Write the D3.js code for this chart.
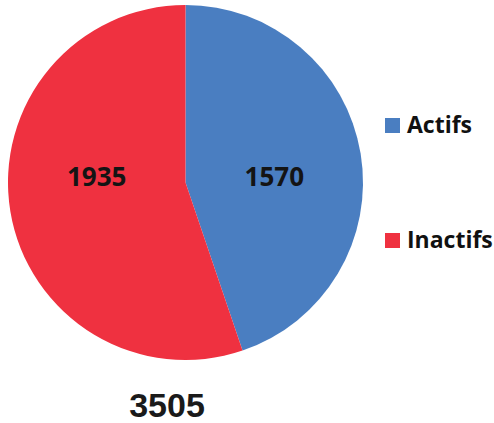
<!DOCTYPE html>
<html><head><meta charset="utf-8">
<script src="https://cdn.jsdelivr.net/npm/d3@7"></script>
<style>html,body{margin:0;padding:0;background:#fff;}svg{display:block;}</style>
</head><body>
<script>
const categories = ["Actifs", "Inactifs"];
const values = [1570, 1935];
const colors = ["#4A7EC1", "#EF3140"];
const totalLabel = "3505";

const W = 494, H = 423;
const cx = 185.5, cy = 182.5, R = 177.5;
const svg = d3.select("body").append("svg").attr("width", W).attr("height", H);

const pie = d3.pie().sort(null).value(d => d)(values);
const arc = d3.arc().innerRadius(0).outerRadius(R);
const labelArc = d3.arc().innerRadius(90).outerRadius(90);
const color = d3.scaleOrdinal().domain(categories).range(colors);

const g = svg.append("g").attr("transform", `translate(${cx},${cy})`);
g.selectAll("path").data(pie).enter().append("path")
  .attr("d", arc).attr("fill", (d, i) => color(categories[i]));

g.selectAll("text.lbl").data(pie).enter().append("text")
  .attr("class", "lbl")
  .attr("x", d => labelArc.centroid(d)[0])
  .attr("y", 3)
  .attr("text-anchor", "middle")
  .style("font-family", "'Open Sans', sans-serif")
  .style("font-weight", "bold")
  .style("font-size", "26px")
  .attr("fill", "#141414")
  .text(d => d.value);

const legend = svg.append("g");
const ly = d3.scalePoint().domain(categories).range([118, 233]);
categories.forEach(c => {
  legend.append("rect").attr("x", 385).attr("y", ly(c)).attr("width", 15).attr("height", 15).attr("fill", color(c));
  legend.append("text").attr("x", 407).attr("y", ly(c) + 15)
    .style("font-family", "'Open Sans', sans-serif").style("font-weight", "bold").style("font-size", "23px")
    .attr("fill", "#111").text(c);
});

svg.append("text").attr("x", 167).attr("y", 417).attr("text-anchor", "middle")
  .style("font-family", "'Liberation Sans', Arial, sans-serif").style("font-weight", "bold").style("font-size", "34px")
  .attr("fill", "#1a1a1a").text(totalLabel);
</script>
</body></html>
